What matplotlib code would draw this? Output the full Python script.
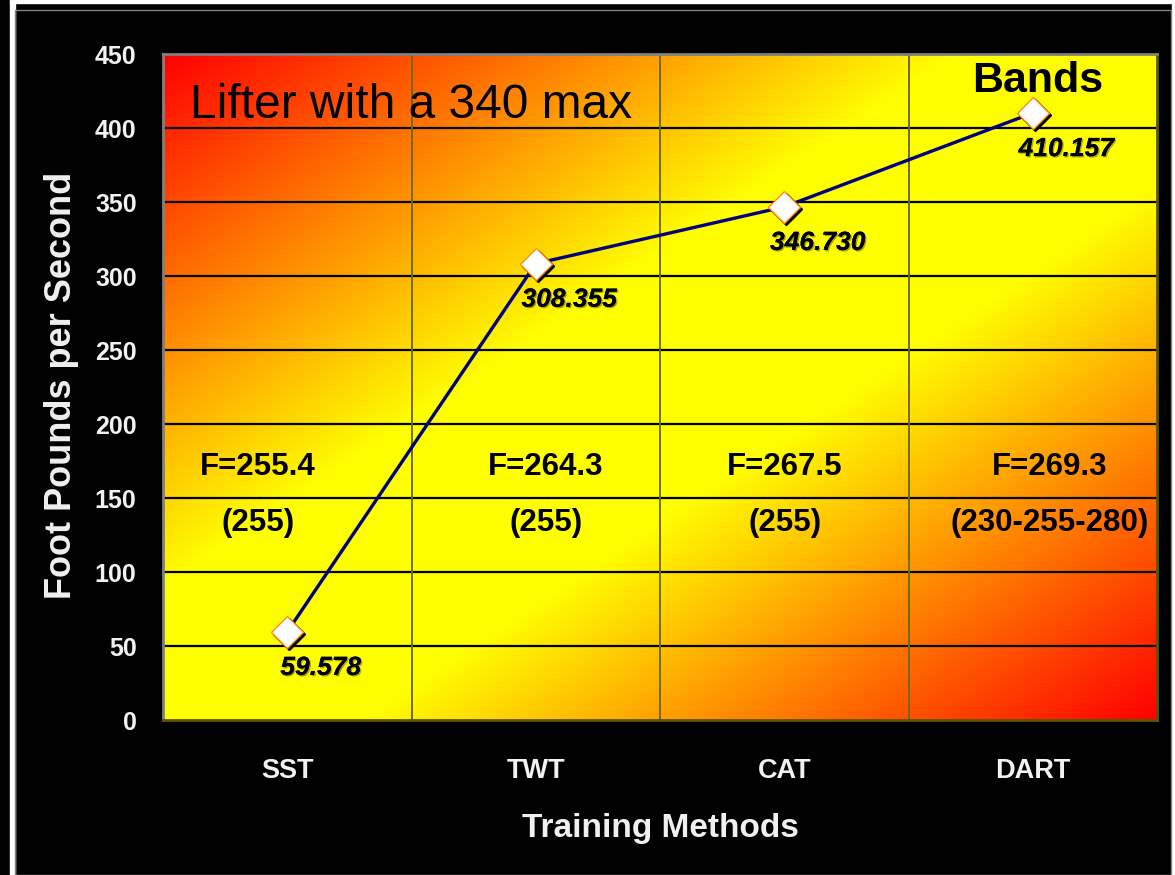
import numpy as np
import matplotlib
matplotlib.use("Agg")
import matplotlib.pyplot as plt
from matplotlib.patches import Rectangle
import matplotlib.patheffects as pe
import matplotlib.transforms as mtransforms

# ---- data ----
categories = ["SST", "TWT", "CAT", "DART"]
values = [59.578, 308.355, 346.730, 410.157]
value_labels = ["59.578", "308.355", "346.730", "410.157"]
force_labels = ["F=255.4", "F=264.3", "F=267.5", "F=269.3"]
load_labels = ["(255)", "(255)", "(255)", "(230-255-280)"]
y_ticks = [0, 50, 100, 150, 200, 250, 300, 350, 400, 450]
x_title = "Training Methods"
y_title = "Foot Pounds per Second"
note_text = "Lifter with a 340 max"
band_text = "Bands"

W, H = 1175, 875
fig = plt.figure(figsize=(W / 100, H / 100), dpi=100, facecolor="black")

def fx(px):
    return px / W

def fy(py):
    return 1 - py / H

# outer frame
fig.add_artist(Rectangle((fx(10), 0), fx(5), 1, transform=fig.transFigure, color="white", zorder=0))
fig.add_artist(Rectangle((fx(10), fy(3)), 1, fy(0) - fy(3), transform=fig.transFigure, color="white", zorder=0))
fig.add_artist(Rectangle((fx(1172), 0), fx(3), 1, transform=fig.transFigure, color="white", zorder=0))
fig.add_artist(Rectangle((fx(15), 0), fx(1171) - fx(15), fy(10), transform=fig.transFigure,
                         facecolor="none", edgecolor="#808080", lw=1, zorder=1))

L, R, T, B = 163, 1157, 54, 720
ax = fig.add_axes([fx(L), fy(B), fx(R) - fx(L), fy(T) - fy(B)])
ax.set_xlim(-0.5, len(categories) - 0.5)
ax.set_ylim(y_ticks[0], y_ticks[-1])

# gradient background: red at top-left and bottom-right, yellow along the rising diagonal
nx, ny = 400, 300
u = np.linspace(0, 1, nx)[None, :]
v = np.linspace(1, 0, ny)[:, None]
d = np.abs(u - v)
g = np.clip((1 - d) / 0.8, 0, 1)
img = np.zeros((ny, nx, 3))
img[..., 0] = 1.0
img[..., 1] = g
ax.imshow(img, extent=[-0.5, len(categories) - 0.5, y_ticks[0], y_ticks[-1]],
          aspect="auto", zorder=0, interpolation="bilinear")

# grid
for yv in y_ticks[1:-1]:
    ax.axhline(yv, color="black", lw=1.6, zorder=1)
for i in range(len(categories) - 1):
    ax.axvline(i + 0.5, color="#6e6a00", lw=1.4, zorder=1)

for name, s in ax.spines.items():
    s.set_linewidth(2)
    s.set_color("#808080" if name in ("left", "top") else "#5a5600")

xs = np.arange(len(categories))
ax.plot(xs, values, color="#000080", lw=2.4, zorder=3)
shadow = ax.transData + mtransforms.ScaledTranslation(2 / 100, -2 / 100, fig.dpi_scale_trans)
ax.plot(xs, values, ls="none", marker="D", ms=16, mfc="black", mec="black", zorder=4,
        transform=shadow)
ax.plot(xs, values, ls="none", marker="D", ms=16, mfc="white", mec="#ff8c1a", mew=1.0, zorder=5)

for xi, val, lab in zip(xs, values, value_labels):
    ax.annotate(lab, (xi, val), xytext=(24, -26), textcoords="offset points",
                ha="center", va="center", fontsize=19, fontweight="bold", fontstyle="italic",
                family="Liberation Sans", color="black", zorder=6,
                path_effects=[pe.withSimplePatchShadow(offset=(1, -1), shadow_rgbFace="#555500", alpha=0.5),
                              pe.Normal()])

force_x = [-0.118, 1.041, 2.003, 3.069]
for xpos, fl, ll in zip(force_x, force_labels, load_labels):
    ax.text(xpos, 171, fl, ha="center", va="center", fontsize=22.5, fontweight="bold",
            family="Liberation Sans", color="black", zorder=6)
    ax.text(xpos, 133, ll, ha="center", va="center", fontsize=22.5, fontweight="bold",
            family="Liberation Sans", color="black", zorder=6)

ax.text(0.027, 0.923, note_text, transform=ax.transAxes, ha="left", va="center",
        fontsize=34.5, family="Liberation Sans", color="black", zorder=6)
ax.text(0.880, 0.959, band_text, transform=ax.transAxes, ha="center", va="center",
        fontsize=31, fontweight="bold", family="Liberation Sans", color="black", zorder=6)

ax.set_xticks(xs)
ax.set_xticklabels(categories)
ax.set_yticks(y_ticks)
ax.tick_params(axis="both", length=0, colors="white")
ax.tick_params(axis="y", pad=19, labelsize=18)
ax.tick_params(axis="x", pad=27, labelsize=19.5)
for lab in ax.get_xticklabels() + ax.get_yticklabels():
    lab.set_fontweight("bold")
    lab.set_family("Liberation Sans")
    lab.set_color("#f2f2f2")

fig.text(fx(660), fy(828), x_title, ha="center", va="center", fontsize=24, fontweight="bold",
         family="Liberation Sans", color="#f0f0f0")
fig.text(fx(62), fy(385), y_title, ha="center", va="center", rotation=90, fontsize=26,
         fontweight="bold", family="Liberation Sans", color="#f0f0f0")

fig.savefig("out.png", dpi=100, facecolor="black")
